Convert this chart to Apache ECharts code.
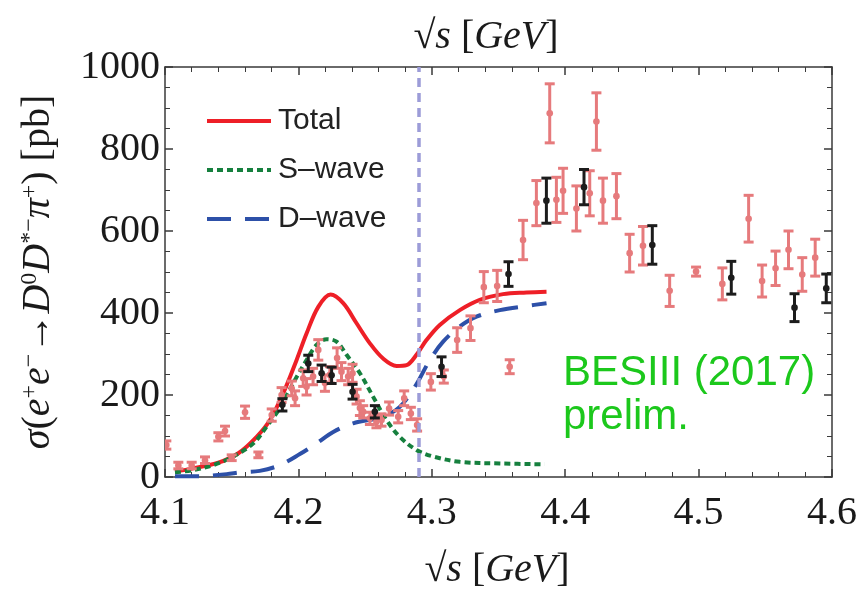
<!DOCTYPE html>
<html>
<head>
<meta charset="utf-8">
<script src="https://cdn.jsdelivr.net/npm/echarts@6/dist/echarts.min.js"></script>
<style>html,body{margin:0;padding:0;background:#fff}#c{width:867px;height:594px}</style>
</head>
<body>
<div id="c"></div>
<script>
// BESIII (2017) prelim. data, pink points
const pinkE = [4.101,4.110,4.120,4.130,4.140,4.145,4.150,4.160,4.170,4.180,4.1874,4.195,4.1975,4.2036,4.2061,4.211,4.2149,4.2199,4.2236,4.229,4.2323,4.2373,4.2406,4.2436,4.2461,4.2486,4.2536,4.2585,4.2623,4.268,4.2748,4.2793,4.2843,4.289,4.2993,4.309,4.319,4.329,4.339,4.349,4.3584,4.3684,4.3784,4.3884,4.3934,4.3984,4.4084,4.4184,4.4234,4.4283,4.4384,4.4483,4.4583,4.4783,4.4981,4.5178,4.5375,4.5476,4.5577,4.5674,4.5777,4.5874];
const pinkV = [78,28,28,41,98,112,47,158,54,151,200,216,192,241,220,245,310,229,249,290,257,245,253,196,168,159,143,135,139,167,147,192,155,127,232,245,334,363,463,466,269,578,668,887,676,698,655,692,867,674,685,546,564,454,501,471,630,478,509,554,494,535];
const pinkErr = [10,8,8,8,10,12,7,15,7,15,18,18,18,20,20,20,25,20,20,25,22,20,22,18,18,15,15,15,15,16,15,18,15,15,20,16,30,30,38,38,17,48,55,72,55,55,55,55,70,55,55,46,47,38,11,39,57,39,42,46,41,45];
// black points
const blackE = [4.188,4.2074,4.2174,4.2249,4.2406,4.2573,4.3073,4.3575,4.3859,4.4141,4.4653,4.5245,4.5719,4.5957];
const blackV = [176,277,253,248,208,159,269,495,674,707,566,486,413,460];
const blackErr = [15,20,20,20,18,15,24,30,55,43,47,40,34,35];
// model curves
const totalE = [4.1075,4.1212,4.14,4.155,4.1687,4.1787,4.1886,4.1986,4.2061,4.2149,4.2241,4.2336,4.2436,4.2536,4.2635,4.2736,4.2811,4.2885,4.296,4.306,4.321,4.336,4.3534,4.371,4.386];
const totalV = [13,21,35,58,98,139,204,285,350,415,445,424,375,326,289,271,273,298,334,371,407,432,446,450,452];
const sE = [4.1075,4.1212,4.1362,4.1512,4.1662,4.1762,4.1861,4.1961,4.2061,4.2136,4.2211,4.2286,4.2361,4.2461,4.256,4.266,4.276,4.2885,4.301,4.321,4.351,4.3846];
const sV = [11,17,29,50,82,123,168,229,285,322,336,330,298,253,196,139,98,66,50,37,33,31];
const dE = [4.1075,4.1237,4.1462,4.156,4.171,4.1861,4.2011,4.2136,4.2261,4.241,4.2635,4.276,4.2873,4.2985,4.3085,4.321,4.3335,4.351,4.371,4.386];
const dV = [2,2,7,11,15,29,56,82,110,131,147,171,220,285,330,367,391,407,417,424];
const threshold = 4.288;
const seriesNames = ['Total', 'S\u2013wave', 'D\u2013wave'];

const zip2 = (a, b) => a.map((x, i) => [x, b[i]]);
const zip3 = (a, b, c) => a.map((x, i) => [x, b[i], c[i]]);

function errRender(color, lw) {
  return function (params, api) {
    const x = api.value(0), y = api.value(1), e = api.value(2);
    const p = api.coord([x, y]);
    const t = api.coord([x, y + e]);
    const b = api.coord([x, y - e]);
    const hw = 5;
    const st = { stroke: color, lineWidth: lw };
    return {
      type: 'group',
      children: [
        { type: 'line', shape: { x1: p[0], y1: t[1], x2: p[0], y2: b[1] }, style: st },
        { type: 'line', shape: { x1: p[0] - hw, y1: t[1], x2: p[0] + hw, y2: t[1] }, style: st },
        { type: 'line', shape: { x1: p[0] - hw, y1: b[1], x2: p[0] + hw, y2: b[1] }, style: st },
        { type: 'circle', shape: { cx: p[0], cy: p[1], r: 3.3 }, style: { fill: color } }
      ]
    };
  };
}

const serif = "'Liberation Serif', 'DejaVu Serif', serif";
const sans = "'Liberation Sans', Arial, sans-serif";
const axisCol = '#3a3a3a';
const lineStyleAxis = { color: axisCol, width: 1.5 };

const chart = echarts.init(document.getElementById('c'), null, { renderer: 'canvas' });
chart.setOption({
  animation: false,
  backgroundColor: '#fff',
  grid: { left: 165, right: 35, top: 67, bottom: 117, containLabel: false, outerBoundsMode: 'none' },
  legend: {
    data: seriesNames,
    orient: 'vertical',
    left: 200, top: 101,
    itemWidth: 64, itemHeight: 26, itemGap: 19,
    itemStyle: { opacity: 0 },
    lineStyle: { width: 4 },
    textStyle: { fontFamily: sans, fontSize: 30, color: '#222', padding: [0, 0, 0, 2] }
  },
  xAxis: [
    {
      type: 'value', min: 4.1, max: 4.6, interval: 0.1, position: 'bottom',
      axisLine: { show: true, onZero: false, lineStyle: lineStyleAxis },
      axisTick: { show: true, inside: true, length: 8, lineStyle: lineStyleAxis },
      minorTick: { show: true, splitNumber: 5, length: 5, lineStyle: { color: axisCol, width: 1 } },
      splitLine: { show: false },
      axisLabel: { formatter: v => v.toFixed(1), fontFamily: serif, fontSize: 40, color: '#1a1a1a', margin: 16 }
    },
    {
      type: 'value', min: 4.1, max: 4.6, interval: 0.1, position: 'top',
      axisLine: { show: true, onZero: false, lineStyle: lineStyleAxis },
      axisTick: { show: true, inside: true, length: 8, lineStyle: lineStyleAxis },
      minorTick: { show: true, splitNumber: 5, length: 5, lineStyle: { color: axisCol, width: 1 } },
      splitLine: { show: false },
      axisLabel: { show: false }
    }
  ],
  yAxis: [
    {
      type: 'value', min: 0, max: 1000, interval: 200, position: 'left',
      axisLine: { show: true, onZero: false, lineStyle: lineStyleAxis },
      axisTick: { show: true, inside: true, length: 8, lineStyle: lineStyleAxis },
      minorTick: { show: true, splitNumber: 4, length: 5, lineStyle: { color: axisCol, width: 1 } },
      splitLine: { show: false },
      axisLabel: { formatter: v => String(Math.round(v)), fontFamily: serif, fontSize: 40, color: '#1a1a1a', margin: 5 }
    },
    {
      type: 'value', min: 0, max: 1000, interval: 200, position: 'right',
      axisLine: { show: true, onZero: false, lineStyle: lineStyleAxis },
      axisTick: { show: true, inside: true, length: 8, lineStyle: lineStyleAxis },
      minorTick: { show: true, splitNumber: 4, length: 5, lineStyle: { color: axisCol, width: 1 } },
      splitLine: { show: false },
      axisLabel: { show: false }
    }
  ],
  series: [
    {
      name: 'threshold', type: 'line', data: [], z: 1,
      markLine: {
        silent: true, symbol: 'none', label: { show: false },
        lineStyle: { color: '#9c9cd8', width: 3.5, type: [9, 6] },
        data: [{ xAxis: threshold }]
      }
    },
    {
      name: seriesNames[0], type: 'line', smooth: 0.35, symbol: 'none', z: 3,
      data: zip2(totalE, totalV),
      lineStyle: { color: '#ee1f27', width: 4 }, itemStyle: { color: '#ee1f27' }
    },
    {
      name: seriesNames[1], type: 'line', smooth: 0.35, symbol: 'none', z: 3,
      data: zip2(sE, sV),
      lineStyle: { color: '#16803e', width: 4, type: [6, 4] }, itemStyle: { color: '#16803e' }
    },
    {
      name: seriesNames[2], type: 'line', smooth: 0.35, symbol: 'none', z: 3,
      data: zip2(dE, dV),
      lineStyle: { color: '#2d50a8', width: 4, type: [24, 14] }, itemStyle: { color: '#2d50a8' }
    },
    {
      name: 'pink', type: 'custom', clip: true, z: 4,
      data: zip3(pinkE, pinkV, pinkErr),
      renderItem: errRender('#e67a7c', 3)
    },
    {
      name: 'black', type: 'custom', clip: true, z: 5,
      data: zip3(blackE, blackV, blackErr),
      renderItem: errRender('#1c1c1c', 3)
    }
  ],
  graphic: [
    {
      type: 'text', x: 38, y: 272, rotation: Math.PI / 2,
      style: {
        text: '{i|σ}(' + '{i|e}{s|+}{i|e}{s|−}→{i|D}{s|0}{i|D}{s|*−}{i|π}{s|+}) [pb]',
        fontFamily: serif, fontSize: 40, fill: '#1a1a1a', align: 'center', verticalAlign: 'middle',
        rich: {
          i: { fontFamily: serif, fontSize: 40, fontStyle: 'italic', fill: '#1a1a1a' },
          s: { fontFamily: serif, fontSize: 24, fill: '#1a1a1a', verticalAlign: 'top' }
        }
      }
    },
    {
      type: 'text', x: 497, y: 570,
      style: {
        text: '√{i|s} [{i|GeV}]', fontFamily: serif, fontSize: 40, fill: '#1a1a1a',
        align: 'center', verticalAlign: 'middle',
        rich: { i: { fontFamily: serif, fontSize: 40, fontStyle: 'italic', fill: '#1a1a1a' } }
      }
    },
    {
      type: 'text', x: 486, y: 37,
      style: {
        text: '√{i|s} [{i|GeV}]', fontFamily: serif, fontSize: 40, fill: '#1a1a1a',
        align: 'center', verticalAlign: 'middle',
        rich: { i: { fontFamily: serif, fontSize: 40, fontStyle: 'italic', fill: '#1a1a1a' } }
      }
    },
    {
      type: 'text', x: 563, y: 351, z: 10,
      style: {
        text: 'BESIII (2017)\nprelim.', fontFamily: sans, fontSize: 42, lineHeight: 44, fill: '#1cc81c'
      }
    }
  ]
});
</script>
</body>
</html>
